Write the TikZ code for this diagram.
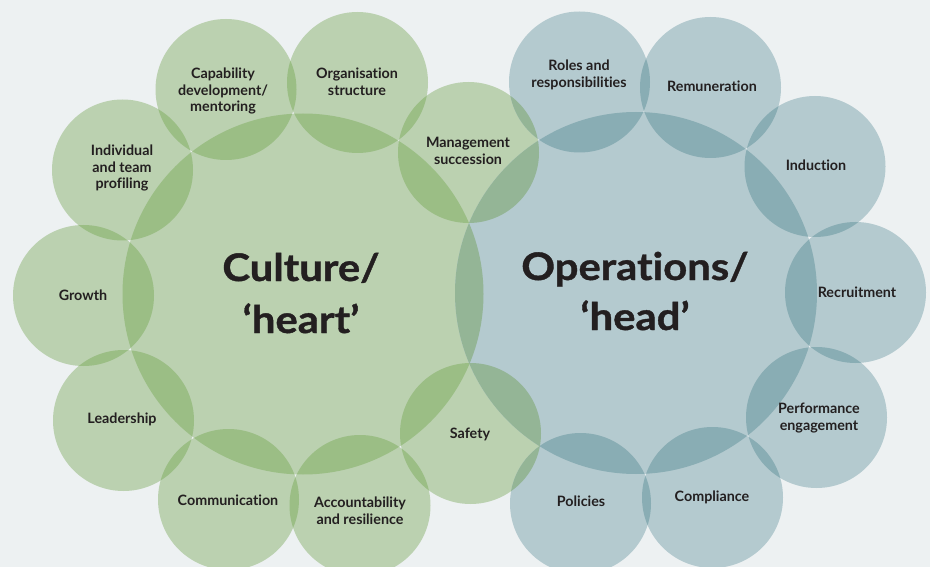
\documentclass[tikz,border=0pt]{standalone}
\usepackage{fontspec}
\setmainfont{Lato}[Ligatures=NoCommon]
\newfontfamily\ttlfont{Lato}[Ligatures=NoCommon,FakeStretch=1.1,FakeBold=1]
\definecolor{bgc}{RGB}{237,241,242}
\definecolor{gl}{RGB}{187,209,176}
\definecolor{gd}{RGB}{155,190,133}
\definecolor{bl}{RGB}{180,202,207}
\definecolor{bd}{RGB}{137,173,180}
\definecolor{gb}{RGB}{148,181,150}
\definecolor{txt}{RGB}{35,31,32}
\begin{document}
\begin{tikzpicture}[x=1pt,y=-1pt,
  lbl/.style={font=\bfseries\fontsize{14.3}{16.8}\selectfont, align=center, text=txt, inner sep=0pt},
  ttl/.style={font=\ttlfont\bfseries\fontsize{38}{50}\selectfont, text=txt, inner sep=0pt, anchor=base}]
\fill[bgc] (0,0) rectangle (930,567);
\useasboundingbox (0,0) rectangle (930,567);
% centres
\coordinate (gC) at (303,294);
\coordinate (bC) at (636,293);
\coordinate (cap) at (226,89.5);
\coordinate (org) at (357.5,82.5);
\coordinate (ind) at (122.5,170);
\coordinate (mgmt) at (468.5,152.5);
\coordinate (gro) at (83.5,295.5);
\coordinate (lea) at (123.5,420.5);
\coordinate (com) at (228.5,499.5);
\coordinate (acc) at (360,505.5);
\coordinate (saf) at (470.5,433.5);
\coordinate (rol) at (579.5,82);
\coordinate (rem) at (710.5,87.5);
\coordinate (indu) at (815,166.5);
\coordinate (rec) at (855.5,292.5);
\coordinate (per) at (816.5,417.5);
\coordinate (comp) at (712.5,497.5);
\coordinate (pol) at (580.5,503.5);
% base fills
\fill[gl] (gC) circle[radius=180.5];
\foreach \n in {cap,org,ind,mgmt,gro,lea,com,acc,saf}
  \fill[gl] (\n) circle[radius=70.5];
\fill[bl] (bC) circle[radius=181];
\foreach \n in {rol,rem,indu,rec,per,comp,pol}
  \fill[bl] (\n) circle[radius=70.5];
% overlaps
\foreach \a/\ra/\b/\rb/\c in {
  gC/180.5/cap/70.5/gd, gC/180.5/org/70.5/gd, gC/180.5/ind/70.5/gd,
  gC/180.5/mgmt/70.5/gd, gC/180.5/gro/70.5/gd, gC/180.5/lea/70.5/gd,
  gC/180.5/com/70.5/gd, gC/180.5/acc/70.5/gd, gC/180.5/saf/70.5/gd,
  ind/70.5/cap/70.5/gd, cap/70.5/org/70.5/gd, org/70.5/mgmt/70.5/gd,
  gro/70.5/ind/70.5/gd, gro/70.5/lea/70.5/gd, lea/70.5/com/70.5/gd,
  com/70.5/acc/70.5/gd, acc/70.5/saf/70.5/gd,
  bC/181/rol/70.5/bd, bC/181/rem/70.5/bd, bC/181/indu/70.5/bd,
  bC/181/rec/70.5/bd, bC/181/per/70.5/bd, bC/181/comp/70.5/bd,
  bC/181/pol/70.5/bd,
  rol/70.5/rem/70.5/bd, rem/70.5/indu/70.5/bd, indu/70.5/rec/70.5/bd,
  rec/70.5/per/70.5/bd, per/70.5/comp/70.5/bd, comp/70.5/pol/70.5/bd,
  gC/180.5/bC/181/gb, mgmt/70.5/bC/181/gb, saf/70.5/bC/181/gb,
  mgmt/70.5/rol/70.5/gb, saf/70.5/pol/70.5/gb}
{
  \begin{scope}
    \clip (\a) circle[radius=\ra];
    \fill[\c] (\b) circle[radius=\rb];
  \end{scope}
}
% titles
\node[ttl] (tg1) at (301,281) {Culture/};
\node[ttl] (tg2) at (301,333) {‘heart’};
\node[ttl] (tb1) at (635,280) {Operations/};
\node[ttl] (tb2) at (635,330) {‘head’};
% labels
\node[lbl] (lcap) at (223,91) {Capability\\development/\\mentoring};
\node[lbl] (lorg) at (357,82) {Organisation\\structure};
\node[lbl] (lind) at (122,168) {Individual\\and team\\profiling};
\node[lbl] (lmgmt) at (468,151) {Management\\succession};
\node[lbl] (lgro) at (83,295) {Growth};
\node[lbl] (llea) at (122,419) {Leadership};
\node[lbl] (lcom) at (228,500) {Communication};
\node[lbl] (lacc) at (360,511) {Accountability\\and resilience};
\node[lbl] (lsaf) at (470,434) {Safety};
\node[lbl] (lrol) at (579,75) {Roles and\\responsibilities};
\node[lbl] (lrem) at (712,86) {Remuneration};
\node[lbl] (lindu) at (816,165) {Induction};
\node[lbl] (lrec) at (857,292) {Recruitment};
\node[lbl] (lper) at (819,418) {Performance\\engagement};
\node[lbl] (lcomp) at (712,497) {Compliance};
\node[lbl] (lpol) at (581,501) {Policies};
\end{tikzpicture}
\end{document}
